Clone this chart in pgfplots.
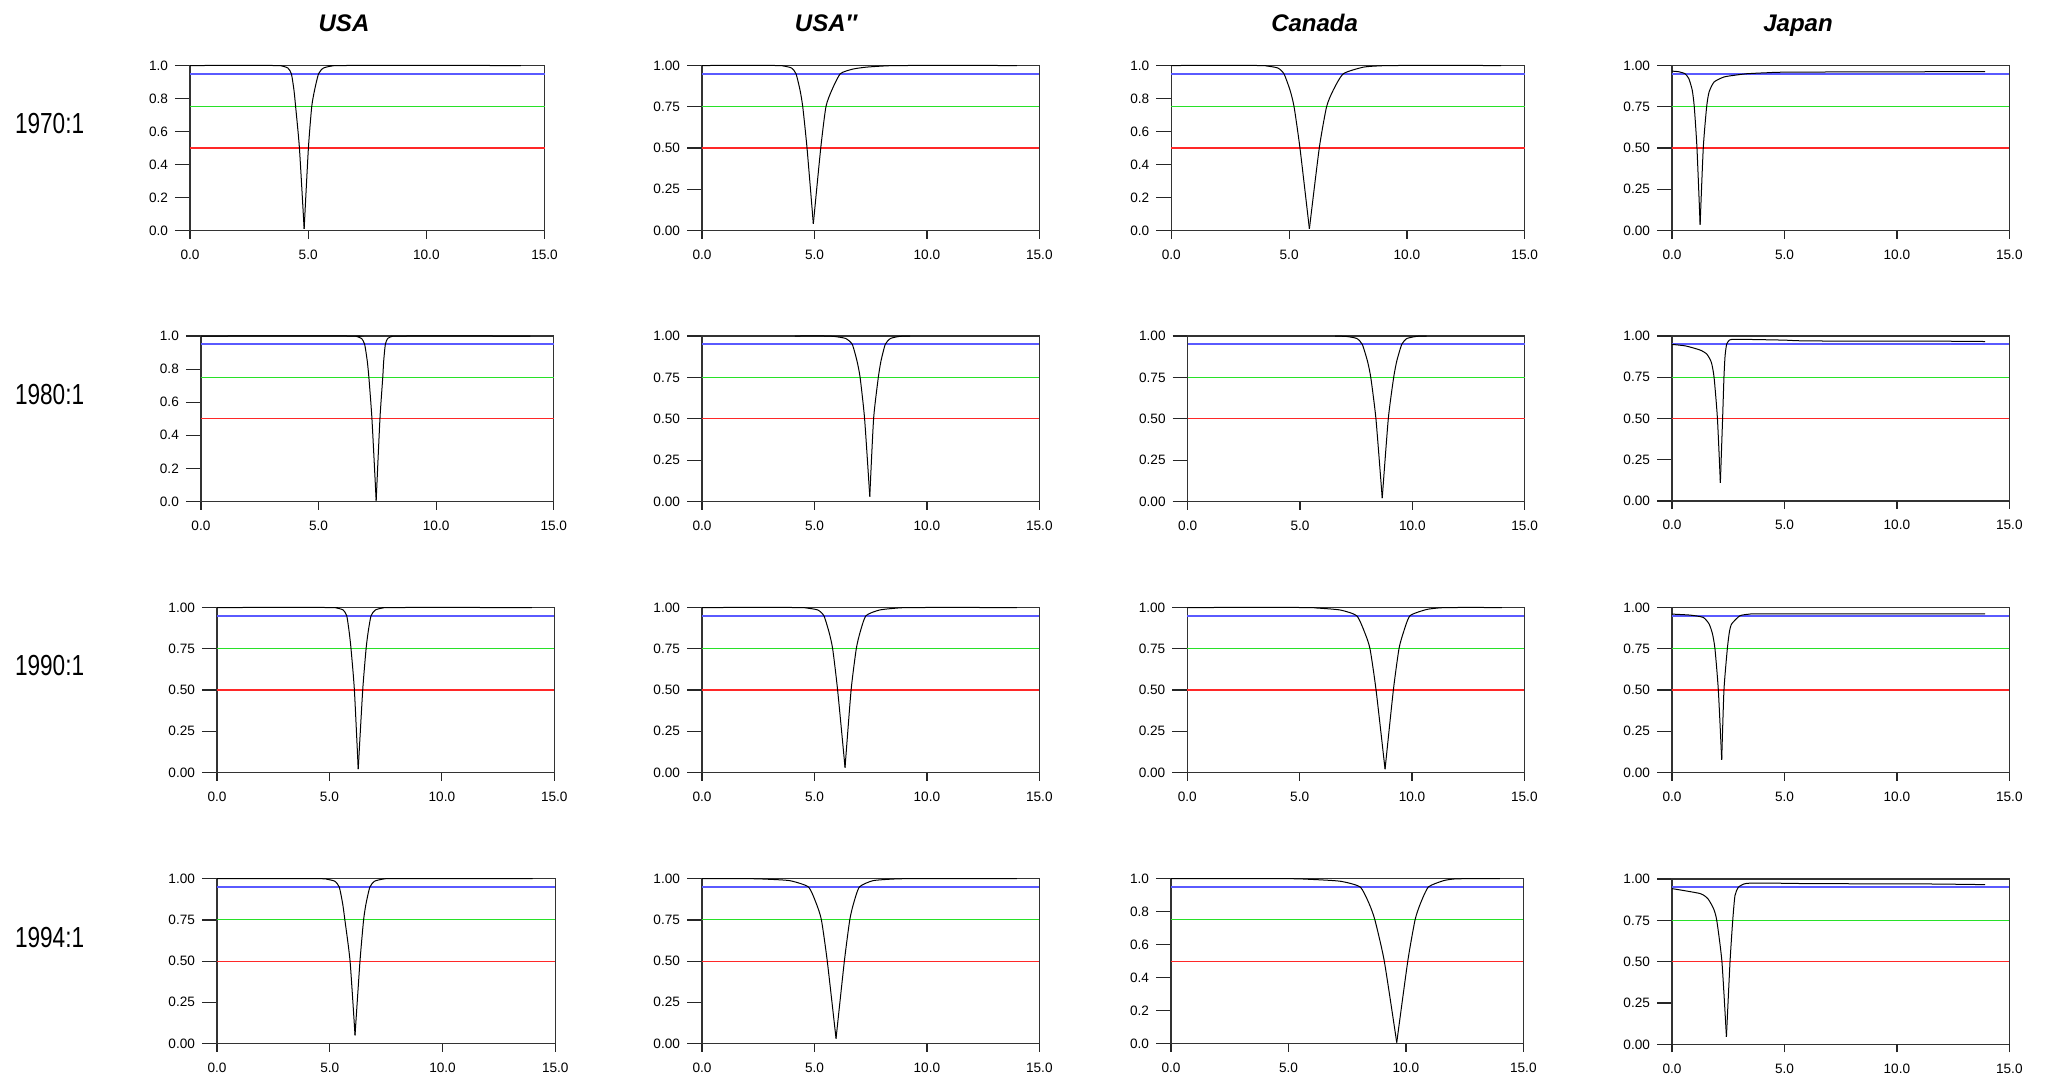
\documentclass[border=0pt]{standalone}
\usepackage{fontspec}
\setmainfont{Liberation Sans}
\newfontfamily\condfont[FakeStretch=0.78]{Liberation Sans}
\usepackage{graphicx}
\usepackage{pgfplots}
\pgfplotsset{compat=1.18}
\definecolor{blueL}{RGB}{90,90,255}
\definecolor{greenL}{RGB}{40,225,40}
\definecolor{redL}{RGB}{255,40,40}
\pgfplotsset{
  panel/.style={scale only axis, anchor=south west, clip=false,
    xmin=0, xmax=15, ymin=0, ymax=1,
    xtick=\empty,
    extra x ticks={0,5,10,15},
    extra x tick style={major tick length=4pt,
      xticklabel style={/pgf/number format/fixed, /pgf/number format/fixed zerofill, /pgf/number format/precision=1, yshift=-2.2pt}},
    tick align=outside, tick pos=left,
    major tick length=7.5pt,
    axis line style={black!80, line width=0.6pt},
    tick style={black!85, line width=0.6pt},
    /pgf/number format/assume math mode=true,
    tick label style={font=\fontsize{6.8}{7}\selectfont},
  },
  one/.style={ytick={0,0.2,0.4,0.6,0.8,1},
    yticklabel style={/pgf/number format/fixed, /pgf/number format/fixed zerofill, /pgf/number format/precision=1}},
  two/.style={ytick={0,0.25,0.5,0.75,1},
    yticklabel style={/pgf/number format/fixed, /pgf/number format/fixed zerofill, /pgf/number format/precision=2}},
}
\newcommand{\refl}{%
  \addplot[redL, line width=0.6pt] coordinates {(0,0.5)(15,0.5)};
  \addplot[greenL, line width=0.55pt] coordinates {(0,0.75)(15,0.75)};
  \addplot[blueL, line width=0.8pt] coordinates {(0,0.95)(15,0.95)};
}
\tikzset{curve/.style={black, line width=0.5pt, smooth, tension=0.35}}
\tikzset{ttl/.style={font=\fontsize{12}{14}\selectfont\bfseries\itshape, anchor=base}}
\tikzset{rlab/.style={font=\condfont\fontsize{14.5}{16}\selectfont}}
\begin{document}
\begin{tikzpicture}
\path[use as bounding box] (0,0) rectangle (1023.5pt,-538.5pt);
% titles
\node[ttl] at (172pt,-15.5pt) {USA};
\node[ttl] at (413pt,-15.5pt) {USA″};
\node[ttl] at (657.3pt,-15.5pt) {Canada};
\node[ttl] at (899pt,-15.5pt) {Japan};
% row labels
\node[rlab] at (24.8pt,-61.7pt) {1970:1};
\node[rlab] at (24.8pt,-197.5pt) {1980:1};
\node[rlab] at (24.8pt,-333pt) {1990:1};
\node[rlab] at (24.8pt,-468.7pt) {1994:1};

% ---------------- Row 1970 ----------------
\begin{axis}[panel, one, at={(95pt,-115.25pt)}, width=177.25pt, height=82.5pt]
\refl
\addplot[curve] coordinates {(0,1)(3.6,1)(3.86,0.998)(4.14,0.985)(4.29,0.95)(4.40,0.85)(4.47,0.75)(4.63,0.5)(4.83,0.01)};
\addplot[curve] coordinates {(4.83,0.01)(5.01,0.5)(5.15,0.75)(5.27,0.85)(5.44,0.95)(5.65,0.985)(6.04,0.998)(6.4,1)(14,1)};
\end{axis}
\begin{axis}[panel, two, at={(351pt,-115.25pt)}, width=168.67pt, height=82.5pt]
\refl
\addplot[curve] coordinates {(0,1)(3.3,1)(3.62,0.997)(3.98,0.985)(4.18,0.95)(4.36,0.85)(4.48,0.75)(4.67,0.5)(4.95,0.04)};
\addplot[curve] coordinates {(4.95,0.04)(5.28,0.5)(5.51,0.75)(5.77,0.85)(6.15,0.95)(6.7,0.978)(7.3,0.99)(8.2,0.998)(9,1)(14,1)};
\end{axis}
\begin{axis}[panel, one, at={(585.67pt,-115.25pt)}, width=176.67pt, height=82.5pt]
\refl
\addplot[curve] coordinates {(0,1)(3.7,1)(4.05,0.997)(4.52,0.985)(4.78,0.95)(5.04,0.85)(5.21,0.75)(5.46,0.5)(5.86,0.01)};
\addplot[curve] coordinates {(5.86,0.01)(6.28,0.5)(6.59,0.75)(6.87,0.85)(7.3,0.95)(8.15,0.99)(8.86,0.998)(9.5,1)(14,1)};
\end{axis}
\begin{axis}[panel, two, at={(836pt,-115.25pt)}, width=168.67pt, height=82.5pt]
\refl
\addplot[curve] coordinates {(0,0.966)(0.3,0.962)(0.58,0.95)(0.75,0.92)(0.9,0.85)(0.99,0.75)(1.11,0.5)(1.25,0.035)};
\addplot[curve] coordinates {(1.25,0.035)(1.39,0.5)(1.54,0.75)(1.65,0.84)(1.87,0.9)(2.3,0.93)(2.73,0.94)(3.32,0.95)(4.2,0.956)(5.4,0.96)(13.92,0.963)};
\end{axis}

% ---------------- Row 1980 ----------------
\begin{axis}[panel, one, at={(100.45pt,-250.75pt)}, width=176.45pt, height=82.75pt]
\refl
\addplot[curve] coordinates {(0,1)(6.4,1)(6.62,0.997)(6.83,0.985)(6.96,0.95)(7.07,0.85)(7.14,0.75)(7.27,0.5)(7.45,0.005)};
\addplot[curve] coordinates {(7.45,0.005)(7.61,0.5)(7.73,0.75)(7.77,0.85)(7.84,0.95)(7.94,0.985)(8.13,0.998)(8.4,1)(14,1)};
\end{axis}
\begin{axis}[panel, two, at={(351pt,-250.75pt)}, width=168.67pt, height=82.75pt]
\refl
\addplot[curve] coordinates {(4.13,1)(5.5,1)(5.9,0.997)(6.39,0.985)(6.68,0.95)(6.89,0.85)(7.03,0.75)(7.23,0.5)(7.46,0.03)};
\addplot[curve] coordinates {(7.46,0.03)(7.63,0.5)(7.84,0.75)(7.96,0.85)(8.15,0.95)(8.38,0.985)(8.8,0.998)(9.25,1)};
\end{axis}
\begin{axis}[panel, two, at={(593.83pt,-250.75pt)}, width=168.5pt, height=82.75pt]
\refl
\addplot[curve] coordinates {(6.56,1)(7.08,0.997)(7.53,0.985)(7.77,0.95)(8.0,0.85)(8.15,0.75)(8.38,0.5)(8.66,0.02)};
\addplot[curve] coordinates {(8.66,0.02)(8.93,0.5)(9.17,0.75)(9.31,0.85)(9.53,0.95)(9.76,0.985)(10.2,0.998)(10.64,1)};
\end{axis}
\begin{axis}[panel, two, at={(836pt,-250.5pt)}, width=168.67pt, height=82.5pt]
\refl
\addplot[curve] coordinates {(0,0.949)(0.6,0.94)(1.25,0.915)(1.55,0.89)(1.75,0.84)(1.87,0.75)(2.02,0.5)(2.15,0.11)};
\addplot[curve] coordinates {(2.15,0.11)(2.25,0.5)(2.31,0.75)(2.36,0.88)(2.43,0.95)(2.55,0.975)(2.73,0.98)(3.5,0.979)(5,0.975)(6.2,0.97)(13.1,0.968)(13.92,0.966)};
\end{axis}

% ---------------- Row 1990 ----------------
\begin{axis}[panel, two, at={(108.5pt,-386.25pt)}, width=168.65pt, height=82.5pt]
\refl
\addplot[curve] coordinates {(0,1)(5.0,1)(5.32,0.997)(5.61,0.985)(5.77,0.95)(5.88,0.85)(5.96,0.75)(6.11,0.5)(6.28,0.02)};
\addplot[curve] coordinates {(6.28,0.02)(6.48,0.5)(6.63,0.75)(6.72,0.85)(6.85,0.95)(7.04,0.985)(7.4,0.998)(7.8,1)(14,1)};
\end{axis}
\begin{axis}[panel, two, at={(351pt,-386.25pt)}, width=168.67pt, height=82.5pt]
\refl
\addplot[curve] coordinates {(0,1)(4.2,1)(4.65,0.997)(5.15,0.985)(5.42,0.95)(5.65,0.85)(5.81,0.75)(6.03,0.5)(6.36,0.03)};
\addplot[curve] coordinates {(6.36,0.03)(6.63,0.5)(6.86,0.75)(7.03,0.85)(7.29,0.95)(7.9,0.985)(8.8,0.998)(9.5,1)(14,1)};
\end{axis}
\begin{axis}[panel, two, at={(593.67pt,-386.25pt)}, width=168.5pt, height=82.5pt]
\refl
\addplot[curve] coordinates {(0,1)(5.2,1)(5.76,0.997)(6.8,0.985)(7.54,0.95)(7.89,0.85)(8.13,0.75)(8.4,0.5)(8.8,0.02)};
\addplot[curve] coordinates {(8.8,0.02)(9.17,0.5)(9.42,0.75)(9.62,0.85)(9.91,0.95)(10.65,0.988)(11.25,0.998)(11.8,1)(14,1)};
\end{axis}
\begin{axis}[panel, two, at={(836pt,-386.25pt)}, width=168.67pt, height=82.5pt]
\refl
\addplot[curve] coordinates {(0,0.96)(0.8,0.954)(1.39,0.94)(1.65,0.9)(1.8,0.84)(1.91,0.75)(2.06,0.5)(2.21,0.077)};
\addplot[curve] coordinates {(2.21,0.077)(2.31,0.5)(2.46,0.75)(2.55,0.85)(2.65,0.9)(3.02,0.95)(3.47,0.96)(4.2,0.962)(13.92,0.962)};
\end{axis}

% ---------------- Row 1994 ----------------
\begin{axis}[panel, two, at={(108.5pt,-521.75pt)}, width=169.15pt, height=82.4pt]
\refl
\addplot[curve] coordinates {(0,1)(4.5,1)(4.86,0.997)(5.22,0.985)(5.42,0.95)(5.57,0.85)(5.67,0.75)(5.90,0.5)(6.12,0.05)};
\addplot[curve] coordinates {(6.12,0.05)(6.34,0.5)(6.50,0.75)(6.61,0.85)(6.78,0.95)(6.99,0.985)(7.37,0.998)(7.8,1)(14,1)};
\end{axis}
\begin{axis}[panel, two, at={(351pt,-521.75pt)}, width=168.67pt, height=82.4pt]
\refl
\addplot[curve] coordinates {(0,1)(2.2,1)(2.9,0.997)(3.91,0.988)(4.73,0.95)(5.08,0.85)(5.31,0.75)(5.57,0.5)(5.96,0.03)};
\addplot[curve] coordinates {(5.96,0.03)(6.33,0.5)(6.57,0.75)(6.74,0.85)(7.0,0.95)(7.6,0.988)(8.5,0.998)(9.2,1)(14,1)};
\end{axis}
\begin{axis}[panel, one, at={(585.5pt,-521.75pt)}, width=176.17pt, height=82.4pt]
\refl
\addplot[curve] coordinates {(0,1)(5.0,1)(5.8,0.997)(7.19,0.985)(8.05,0.95)(8.43,0.85)(8.68,0.75)(9.08,0.5)(9.61,0.006)};
\addplot[curve] coordinates {(9.61,0.006)(10.08,0.5)(10.39,0.75)(10.62,0.85)(10.96,0.95)(11.6,0.988)(12.02,0.998)(12.5,1)(14,1)};
\end{axis}
\begin{axis}[panel, two, at={(836pt,-522.2pt)}, width=168.67pt, height=82.7pt]
\refl
\addplot[curve] coordinates {(0,0.942)(1.25,0.912)(1.6,0.88)(1.85,0.82)(1.99,0.75)(2.22,0.5)(2.42,0.046)};
\addplot[curve] coordinates {(2.42,0.046)(2.58,0.5)(2.7,0.75)(2.8,0.9)(2.95,0.95)(3.2,0.97)(3.47,0.975)(4.5,0.975)(6.3,0.972)(11.4,0.97)(13.92,0.966)};
\end{axis}
\end{tikzpicture}
\end{document}
